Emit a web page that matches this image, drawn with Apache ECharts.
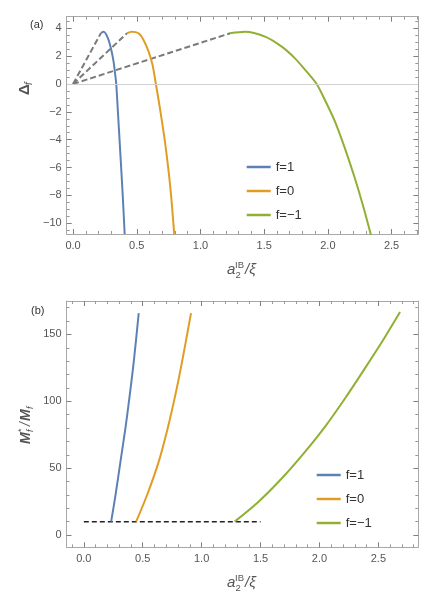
<!DOCTYPE html>
<html>
<head>
<meta charset="utf-8">
<script src="https://cdn.jsdelivr.net/npm/echarts@6/dist/echarts.min.js"></script>
<style>
  html, body { margin: 0; padding: 0; background: #fff; }
  #chart { width: 436px; height: 609px; }
</style>
</head>
<body>
<div id="chart"></div>
<script>
'use strict';

const names = ['f=1', 'f=0', 'f=\u22121'];
const colors = ['#5e81b5', '#e19c24', '#8fb032'];

// (a) gap Delta_f vs a2/xi
const gapBlueX = [0.219, 0.240, 0.274, 0.300, 0.318, 0.331, 0.339, 0.352, 0.371, 0.389, 0.405];
const gapBlueY = [3.66, 3.75, 3.28, 2.44, 1.60, 0.65, 0.00, -2.00, -4.98, -7.85, -10.77];
const gapOrangeX = [0.423, 0.462, 0.514, 0.553, 0.593, 0.624, 0.650, 0.684, 0.723, 0.763, 0.794];
const gapOrangeY = [3.64, 3.75, 3.64, 3.16, 2.32, 1.36, 0.00, -1.87, -4.26, -7.37, -10.77];
const gapGreenX = [1.233, 1.350, 1.507, 1.638, 1.742, 1.834, 1.912, 1.977, 2.056, 2.134, 2.212, 2.278, 2.338];
const gapGreenY = [3.64, 3.75, 3.40, 2.68, 1.84, 0.88, 0.00, -1.15, -2.70, -4.62, -6.77, -8.80, -10.84];
// dashed guides from the origin to each curve start
const guideEndX = [0.219, 0.423, 1.233];
const guideEndY = [3.66, 3.64, 3.64];

// (b) mass ratio M*/M vs a2/xi
const massBlueX = [0.232, 0.269, 0.311, 0.353, 0.390, 0.424, 0.466];
const massBlueY = [10, 29.9, 54.9, 79.8, 104.8, 129.7, 165.9];
const massOrangeX = [0.444, 0.537, 0.636, 0.712, 0.777, 0.834, 0.910];
const massOrangeY = [10, 29.9, 54.9, 79.8, 104.8, 129.7, 165.9];
const massGreenX = [1.280, 1.483, 1.681, 1.879, 2.048, 2.218, 2.387, 2.542, 2.684];
const massGreenY = [10, 24.9, 42.4, 62.4, 81.1, 102.3, 124.8, 146.0, 166.7];
const baseLineX = [0, 1.5];
const baseLineY = [10, 10];

// ticks
const xTicksA = [0, 0.5, 1, 1.5, 2, 2.5];
const xMinorA = [0.1, 0.2, 0.3, 0.4, 0.6, 0.7, 0.8, 0.9, 1.1, 1.2, 1.3, 1.4, 1.6, 1.7, 1.8, 1.9, 2.1, 2.2, 2.3, 2.4, 2.6, 2.7];
const yTicksA = [-10, -8, -6, -4, -2, 0, 2, 4];
const yMinorA = [-10.5, -9.5, -9, -8.5, -7.5, -7, -6.5, -5.5, -5, -4.5, -3.5, -3, -2.5, -1.5, -1, -0.5, 0.5, 1, 1.5, 2.5, 3, 3.5, 4.5];
const xTicksB = [0, 0.5, 1, 1.5, 2, 2.5];
const xMinorB = [-0.1, 0.1, 0.2, 0.3, 0.4, 0.6, 0.7, 0.8, 0.9, 1.1, 1.2, 1.3, 1.4, 1.6, 1.7, 1.8, 1.9, 2.1, 2.2, 2.3, 2.4, 2.6, 2.7, 2.8];
const yTicksB = [0, 50, 100, 150];
const yMinorB = [10, 20, 30, 40, 60, 70, 80, 90, 110, 120, 130, 140, 160, 170];

const font = 'Liberation Sans, Arial, sans-serif';
const frameColor = '#a8a8a8';
const majorColor = '#808080';
const minorColor = '#999999';
const labelColor = '#555';

const zip = (xs, ys) => xs.map((x, i) => [x, ys[i]]);
const fmtX = v => v.toFixed(1);
const fmtY = v => (v < 0 ? '\u2212' + (-v) : String(v));

// overlaid axes build a Mathematica-like frame: line+labels, major ticks, minor ticks, on both sides
function frame(dim, grid, min, max, major, minor, fmt) {
  const pos = dim === 'x' ? ['bottom', 'top'] : ['left', 'right'];
  const base = {type: 'value', gridIndex: grid, min: min, max: max, splitLine: {show: false}};
  const line = {show: true, onZero: false, lineStyle: {color: frameColor, width: 1}};
  const noLine = {show: false, onZero: false};
  const tick = (vals, len, color) => ({show: true, inside: true, length: len, customValues: vals,
    lineStyle: {color: color, width: 1}});
  const axes = [];
  pos.forEach((p, i) => {
    axes.push(Object.assign({}, base, {position: p, axisLine: line, axisTick: {show: false},
      axisLabel: i === 0 ? {show: true, customValues: major, formatter: fmt, color: labelColor,
        fontSize: 11, fontFamily: font, margin: dim === 'x' ? 6 : 5} : {show: false}}));
    axes.push(Object.assign({}, base, {position: p, axisLine: noLine,
      axisTick: tick(major, 5, majorColor), axisLabel: {show: false}}));
    axes.push(Object.assign({}, base, {position: p, axisLine: noLine,
      axisTick: tick(minor, 3, minorColor), axisLabel: {show: false}}));
  });
  return axes;
}

function curve(name, color, data, axis) {
  return {
    name: name, type: 'line', data: data, xAxisIndex: axis, yAxisIndex: axis,
    symbol: 'none', smooth: 0.3,
    lineStyle: {color: color, width: 2}, itemStyle: {color: color}, z: 3
  };
}

function dashed(data, color, axis, width, dash) {
  return {
    type: 'line', data: data, xAxisIndex: axis, yAxisIndex: axis, symbol: 'none',
    lineStyle: {color: color, width: width, type: dash}, z: 2, silent: true
  };
}

const series = [];
guideEndX.forEach((x, i) => series.push(dashed([[0, 0], [x, guideEndY[i]]], '#7a7a7a', 0, 2, [6, 3])));
series[0].markLine = {
  silent: true, symbol: 'none', label: {show: false},
  lineStyle: {color: '#d0d0d0', type: 'solid', width: 1}, data: [{yAxis: 0}]
};
series.push(curve(names[0], colors[0], zip(gapBlueX, gapBlueY), 0));
series.push(curve(names[1], colors[1], zip(gapOrangeX, gapOrangeY), 0));
series.push(curve(names[2], colors[2], zip(gapGreenX, gapGreenY), 0));
series.push(dashed(zip(baseLineX, baseLineY), '#222', 6, 1.5, [5, 3]));
series.push(curve(names[0], colors[0], zip(massBlueX, massBlueY), 6));
series.push(curve(names[1], colors[1], zip(massOrangeX, massOrangeY), 6));
series.push(curve(names[2], colors[2], zip(massGreenX, massGreenY), 6));

function legend(left, top) {
  return {
    data: names, orient: 'vertical', left: left, top: top, icon: 'rect',
    itemWidth: 24, itemHeight: 2.5, itemGap: 8, selectedMode: false,
    textStyle: {color: '#333', fontSize: 13, fontFamily: font, lineHeight: 16}
  };
}

function txt(x, y, s, size, style, color) {
  return {type: 'text', x: x, y: y, silent: true, style: {
    text: s, font: (style || '') + ' ' + size + 'px ' + font, fill: color || labelColor,
    align: 'left', verticalAlign: 'middle'}};
}

function xName(cx, cy) {
  return {type: 'group', x: cx, y: cy, children: [
    txt(-15, 0, 'a', 15, 'italic'),
    txt(-7, -4.5, 'IB', 9.5),
    txt(-6.5, 5, '2', 9.5),
    txt(3, 0, '/\u03be', 15, 'italic')
  ]};
}

const graphic = [
  xName(242, 270),
  xName(242, 583),
  {type: 'group', x: 25, y: 88, rotation: Math.PI / 2, children: [
    txt(-7, 0, '\u0394', 15, 'bold'),
    txt(3, 4, 'f', 10, 'italic')
  ]},
  {type: 'group', x: 26, y: 425, rotation: Math.PI / 2, children: [
    txt(-19, 0, 'M', 14, 'italic bold'),
    txt(-7, -4, '*', 9),
    txt(-7, 4, 'f', 9, 'italic'),
    txt(-1, 0, '/', 14, 'italic'),
    txt(4, 0, 'M', 14, 'italic bold'),
    txt(16, 4, 'f', 9, 'italic')
  ]},
  txt(30, 25, '(a)', 11, '', '#333'),
  txt(31, 311, '(b)', 11, '', '#333')
];

const chart = echarts.init(document.getElementById('chart'), null, {renderer: 'canvas'});
chart.setOption({
  backgroundColor: '#fff',
  animation: false,
  grid: [
    {left: 66.7, right: 17.7, top: 16.7, bottom: 375},
    {left: 66.5, right: 17.7, top: 301, bottom: 61.7}
  ],
  xAxis: frame('x', 0, -0.05, 2.71, xTicksA, xMinorA, fmtX)
    .concat(frame('x', 1, -0.147, 2.839, xTicksB, xMinorB, fmtX)),
  yAxis: frame('y', 0, -10.77, 4.83, yTicksA, yMinorA, fmtY)
    .concat(frame('y', 1, -9.2, 175, yTicksB, yMinorB, fmtY)),
  legend: [legend(241.7, 154), legend(311.7, 462)],
  graphic: graphic,
  series: series
});
</script>
</body>
</html>
